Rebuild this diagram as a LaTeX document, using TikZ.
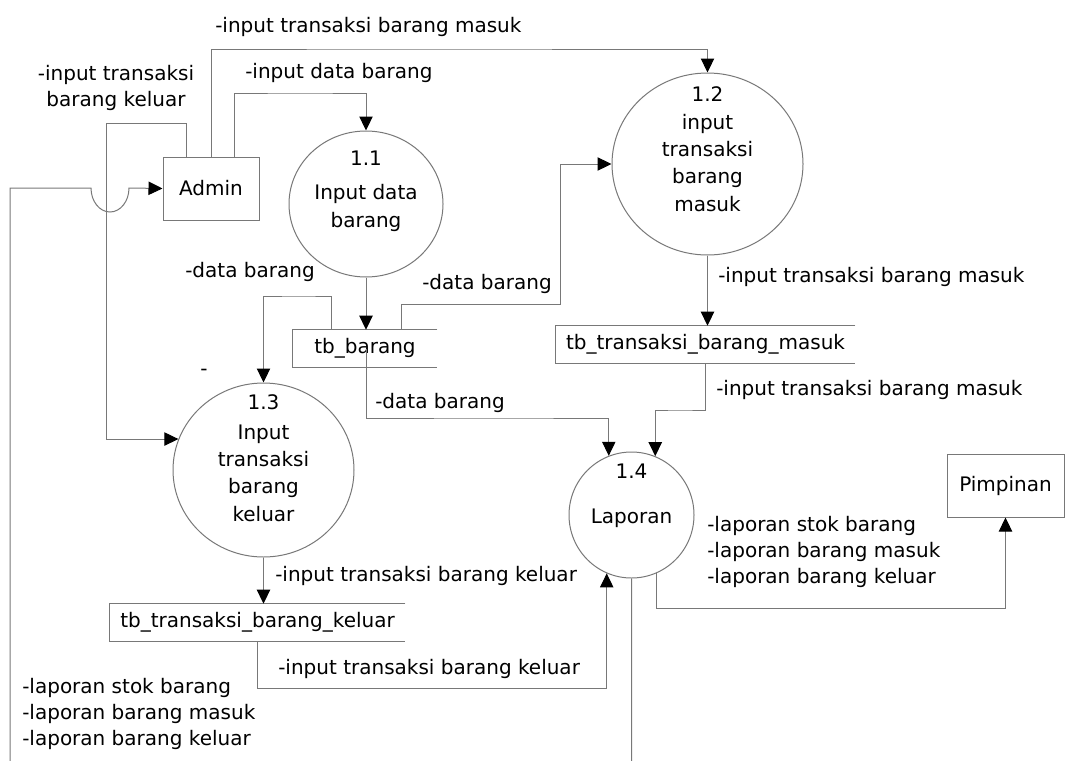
\documentclass[tikz,border=0pt]{standalone}
\usepackage{fontspec}
\setmainfont{DejaVu Sans}
\usepackage{tikz}
\usetikzlibrary{arrows.meta,shapes.geometric}
\definecolor{linegray}{RGB}{120,120,120}

\begin{document}
\begin{tikzpicture}[x=0.75pt, y=-0.75pt,
            font=\fontsize{15}{19.5}\selectfont,
            line/.style={draw=linegray, line width=0.75pt},
            flow/.style={line, -{Triangle[length=10.5pt,width=10pt,color=black,fill=black]}},
            proc/.style={ellipse, line, inner sep=0pt},
            ent/.style={rectangle, line, inner sep=0pt},
            store/.style={inner sep=0pt, minimum height=27.75pt},
            lbl/.style={anchor=west, inner sep=0pt, align=left}
        ]
            \path[fill=white] (0,0) rectangle (1066,760);

            % Entities
            \node [ent, minimum width=72pt, minimum height=47.25pt] (admin) at (211,188.5) {Admin};
            \node [ent, minimum width=87.75pt, minimum height=47.25pt] (pimpinan) at (1005.5,485.5) {Pimpinan};

            % Processes
            \node [proc, minimum width=115.5pt, minimum height=109.5pt,
                   label={[yshift=9.5pt, align=center]center:1.1\\[6pt]Input data\\[2pt]barang}] (p11) at (366,204) {};
            \node [proc, minimum width=143.25pt, minimum height=136.5pt,
                   label={[yshift=11pt, align=center]center:1.2\\[1pt]input\\[1pt]transaksi\\[1pt]barang\\[1pt]masuk}] (p12) at (707.5,164) {};
            \node [proc, minimum width=135.75pt, minimum height=130.5pt,
                   label={[yshift=9pt, align=center]center:1.3\\[3pt]Input\\[1pt]transaksi\\[1pt]barang\\[1pt]keluar}] (p13) at (263.5,470) {};
            \node [proc, minimum width=93.75pt, minimum height=94.5pt,
                   label={[yshift=14.5pt, align=center]center:1.4\\[14pt]Laporan}] (p14) at (631.5,515) {};

            % Data stores
            \node [store, minimum width=108pt] (tbb) at (365,348.5) {tb\_barang};
            \node [store, minimum width=224.25pt] (tbm) at (705.5,344.5) {tb\_transaksi\_barang\_masuk};
            \node [store, minimum width=221.25pt] (tbk) at (257.5,622.5) {tb\_transaksi\_barang\_keluar};
            \foreach \s in {tbb,tbm,tbk}
                \draw [line] (\s.north east) -| (\s.south west) -- (\s.south east);

            % Flows from Admin
            \draw [flow] (186,0 |- admin.north) |- (106,123) |- (p13.160);
            \draw [flow] (admin.north) |- (400,49) -| (p12.north);
            \draw [flow] (234,0 |- admin.north) |- (300,93) -| (p11.north);

            % Flows around tb_barang
            \draw [flow] (p11.south) -- (p11.south |- tbb.north);
            \draw [flow] (331,0 |- tbb.north) |- (300,296) -| (p13.north);
            \draw [flow] (401,0 |- tbb.north) |- (560,304) |- (p12.west);
            \draw [flow] (366,0 |- tbb.center) |- (500,418) -| (p14.111);

            % Flows through the transaction stores
            \draw [flow] (p12.south) -- (p12.south |- tbm.north);
            \draw [flow] (tbm.south) |- (680,410) -| (p14.68);
            \draw [flow] (p13.south) -- (p13.south |- tbk.north);
            \draw [flow] (tbk.south) |- (400,688) -| (p14.247);

            % Reports
            \draw [flow] (p14.293) |- (800,608) -| (pimpinan.south);
            \begin{scope}
                \clip (0,0) rectangle (1066,760);
                \draw [flow] (p14.south) -- ++(0,220) -| (10,188) -- (91,188)
                    arc [start angle=180, end angle=0, x radius=19, y radius=24] -- (admin.west);
            \end{scope}

            % Labels
            \node [lbl, align=center, anchor=center] (l1) at (116,88) {-input transaksi\\barang keluar};
            \node [lbl] (l2) at (215,27) {-input transaksi barang masuk};
            \node [lbl] (l3) at (245,73) {-input data barang};
            \node [lbl] (l4) at (185,272) {-data barang};
            \node [lbl] (l5) at (422,284) {-data barang};
            \node [lbl] (l6) at (200,372) {-};
            \node [lbl] (l7) at (375,403) {-data barang};
            \node [lbl] (l8) at (718,277) {-input transaksi barang masuk};
            \node [lbl] (l9) at (716,390) {-input transaksi barang masuk};
            \node [lbl] (l10) at (275,576) {-input transaksi barang keluar};
            \node [lbl] (l11) at (278,669) {-input transaksi barang keluar};
            \node [lbl] (l12) at (707,552) {-laporan stok barang\\-laporan barang masuk\\-laporan barang keluar};
            \node [lbl] (l13) at (22,714) {-laporan stok barang\\-laporan barang masuk\\-laporan barang keluar};
        \end{tikzpicture}
\end{document}
